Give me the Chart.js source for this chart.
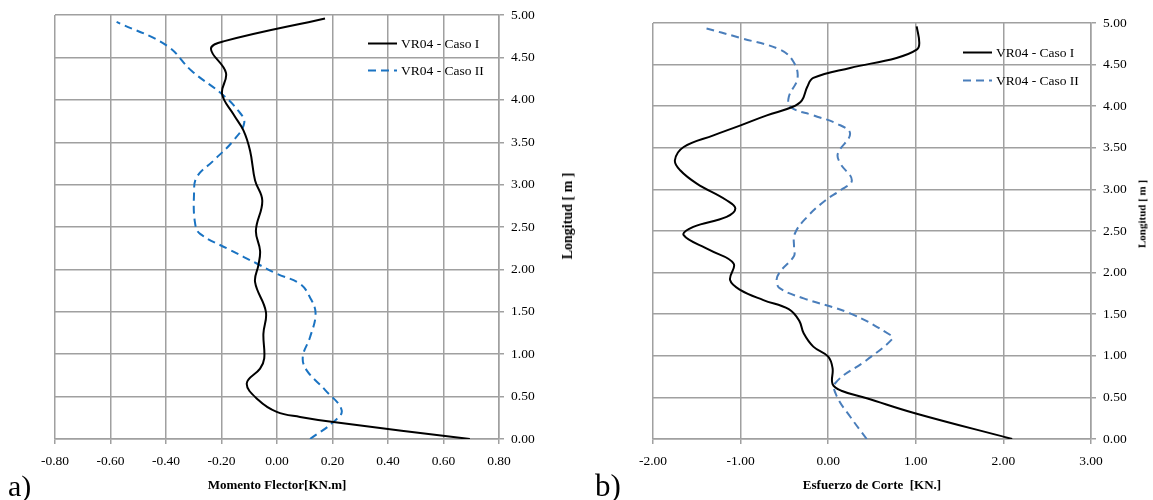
<!DOCTYPE html>
<html><head><meta charset="utf-8">
<script src="https://cdn.jsdelivr.net/npm/chart.js@4"></script>
<style>
html,body{margin:0;padding:0;background:#fff;}
body{width:1153px;height:500px;position:relative;overflow:hidden;font-family:'Liberation Serif','Times New Roman',serif;color:#000;}
.ytitle{position:absolute;font-weight:bold;white-space:nowrap;transform:translate(-50%,-50%) rotate(-90deg);line-height:1;}
.leg{position:absolute;display:flex;align-items:flex-start;font-size:13.5px;line-height:18px;white-space:nowrap;}
.leg svg{display:block;margin-right:4px;}
.panel{position:absolute;font-size:30px;line-height:30px;}
</style></head>
<body>
<canvas id="ca" width="580" height="500" style="position:absolute;left:0;top:0"></canvas>
<canvas id="cb" width="573" height="500" style="position:absolute;left:580px;top:0"></canvas>
<div class="ytitle" style="left:568px;top:216px;font-size:14px">Longitud [ m ]</div>
<div class="ytitle" style="left:1142px;top:214px;font-size:11px">Longitud [ m ]</div>
<div class="panel" style="left:8px;top:471px">a)</div>
<div class="panel" style="left:595px;top:471px;font-size:31px">b)</div>
<div id="lega"></div>
<div id="legb"></div>
<script>
// ---- data ----
const seriesNames = ['VR04 - Caso I', 'VR04 - Caso II'];
const yTickLabels = ['0.00','0.50','1.00','1.50','2.00','2.50','3.00','3.50','4.00','4.50','5.00'];
const xTickLabelsA = ['-0.80','-0.60','-0.40','-0.20','0.00','0.20','0.40','0.60','0.80'];
const xTickLabelsB = ['-2.00','-1.00','0.00','1.00','2.00','3.00'];

// (a) Momento Flector [KN.m] vs Longitud [m]
const momentCasoI_x = [0.695, 0.203, 0.083, -0.001, -0.067, -0.109, -0.061, -0.046, -0.049, -0.040, -0.079, -0.067, -0.061, -0.076, -0.053, -0.079, -0.097, -0.121, -0.157, -0.198, -0.184, -0.238, -0.193, 0.173];
const momentCasoI_y = [0.00, 0.20, 0.26, 0.32, 0.46, 0.655, 0.83, 0.95, 1.24, 1.50, 1.85, 2.05, 2.22, 2.46, 2.81, 3.05, 3.40, 3.64, 3.83, 4.07, 4.32, 4.60, 4.69, 4.96];
const momentCasoII_x = [0.119, 0.203, 0.233, 0.173, 0.107, 0.093, 0.119, 0.139, 0.119, 0.083, -0.001, -0.073, -0.169, -0.277, -0.295, -0.299, -0.289, -0.230, -0.157, -0.118, -0.139, -0.199, -0.307, -0.397, -0.578];
const momentCasoII_y = [0.00, 0.20, 0.34, 0.58, 0.81, 0.97, 1.20, 1.48, 1.67, 1.83, 1.95, 2.07, 2.23, 2.42, 2.54, 2.89, 3.09, 3.28, 3.52, 3.73, 3.87, 4.07, 4.34, 4.64, 4.92];

// (b) Esfuerzo de Corte [KN.] vs Longitud [m]
const shearCasoI_x = [2.10, 0.99, 0.44, 0.15, 0.05, 0.05, 0.00, -0.17, -0.28, -0.33, -0.45, -0.74, -1.00, -1.12, -1.08, -1.35, -1.65, -1.54, -1.16, -1.06, -1.16, -1.50, -1.69, -1.75, -1.65, -1.31, -1.00, -0.70, -0.41, -0.30, -0.24, -0.17, 0.25, 0.78, 1.01, 1.04, 1.01];
const shearCasoI_y = [0.00, 0.31, 0.49, 0.58, 0.66, 0.85, 0.99, 1.11, 1.27, 1.42, 1.56, 1.67, 1.79, 1.91, 2.11, 2.27, 2.45, 2.55, 2.67, 2.77, 2.87, 3.07, 3.23, 3.35, 3.51, 3.65, 3.77, 3.89, 3.99, 4.07, 4.23, 4.34, 4.46, 4.58, 4.68, 4.76, 4.96];
const shearCasoII_x = [0.44, 0.25, 0.10, 0.08, 0.44, 0.73, 0.71, 0.25, -0.28, -0.55, -0.59, -0.55, -0.39, -0.39, -0.38, -0.24, -0.03, 0.14, 0.27, 0.14, 0.11, 0.25, 0.10, -0.17, -0.43, -0.45, -0.35, -0.40, -0.55, -1.00, -1.44];
const shearCasoII_y = [0.00, 0.27, 0.51, 0.67, 0.95, 1.20, 1.25, 1.51, 1.69, 1.81, 1.91, 2.01, 2.20, 2.29, 2.47, 2.67, 2.87, 2.99, 3.11, 3.31, 3.43, 3.67, 3.79, 3.89, 3.99, 4.11, 4.34, 4.54, 4.68, 4.82, 4.95];

// ---- styles ----
const FONT = "'Liberation Serif','Times New Roman',serif";
const GRID = '#a0a0a0';
const DASH = [8, 5];

function pts(xs, ys){ return xs.map((x,i)=>({x:x, y:ys[i]})); }
function fmt(v){ return (Math.abs(v) < 1e-9 ? 0 : v).toFixed(2); }

function makeChart(id, o){
  return new Chart(document.getElementById(id), {
    type:'scatter',
    data:{ datasets:[
      {label:seriesNames[0], data:pts(o.x1,o.y1), showLine:true, borderColor:'#000', borderWidth:2, pointRadius:0, tension:0.4, fill:false},
      {label:seriesNames[1], data:pts(o.x2,o.y2), showLine:true, borderColor:o.blue, borderWidth:2, borderDash:DASH, pointRadius:0, tension:0.4, fill:false}
    ]},
    options:{
      responsive:false, animation:false, devicePixelRatio:1,
      layout:{padding:{left:o.padL, top:o.padT, right:0, bottom:0}},
      plugins:{legend:{display:false}, tooltip:{enabled:false}},
      scales:{
        x:{type:'linear', position:'bottom', min:o.xmin, max:o.xmax,
           afterBuildTicks:(s)=>{ s.ticks = o.xLabels.map(t=>({value:parseFloat(t)})); },
           ticks:{callback:(v)=>fmt(v), font:{family:FONT,size:13.5}, color:'#000', padding:9, maxRotation:0, autoSkip:false},
           grid:{color:GRID, lineWidth:1.5, tickLength:5, drawTicks:true},
           border:{color:GRID, width:1.5},
           title:{display:true, text:o.xTitle, font:{family:FONT,size:13,weight:'bold'}, color:'#000', padding:{top:0,bottom:7}},
           afterFit:(s)=>{ s.height = 61; }
        },
        y:{type:'linear', position:'right', min:0, max:5,
           afterBuildTicks:(s)=>{ s.ticks = yTickLabels.map(t=>({value:parseFloat(t)})); },
           ticks:{callback:(v)=>fmt(v), font:{family:FONT,size:13.5}, color:'#000', padding:7, autoSkip:false},
           grid:{color:GRID, lineWidth:1.5, tickLength:5, drawTicks:true},
           border:{color:GRID, width:1.5},
           afterFit:(s)=>{ s.width = o.yW; }
        }
      }
    }
  });
}

const chartA = makeChart('ca', {x1:momentCasoI_x, y1:momentCasoI_y, x2:momentCasoII_x, y2:momentCasoII_y,
  blue:'#1a73c2', padL:55, padT:14, yW:81, xmin:-0.8, xmax:0.8, xLabels:xTickLabelsA, xTitle:'Momento Flector[KN.m]'});
const chartB = makeChart('cb', {x1:shearCasoI_x, y1:shearCasoI_y, x2:shearCasoII_x, y2:shearCasoII_y,
  blue:'#4a7ebb', padL:73, padT:23, yW:62, xmin:-2, xmax:3, xLabels:xTickLabelsB, xTitle:'Esfuerzo de Corte  [KN.]'});

function legend(hostId, chart, left, tops){
  const host = document.getElementById(hostId);
  chart.data.datasets.forEach((ds,i)=>{
    const row = document.createElement('div');
    row.className = 'leg';
    row.style.left = left + 'px';
    row.style.top = tops[i] + 'px';
    const dash = ds.borderDash ? ds.borderDash.join(',') : 'none';
    row.innerHTML = '<svg width="29" height="18"><line x1="0" y1="8.5" x2="29" y2="8.5" stroke="'+ds.borderColor+'" stroke-width="2" stroke-dasharray="'+dash+'"/></svg><span>'+ds.label+'</span>';
    host.appendChild(row);
  });
}
legend('lega', chartA, 368, [35, 62]);
legend('legb', chartB, 963, [44, 72]);
</script>
</body></html>
